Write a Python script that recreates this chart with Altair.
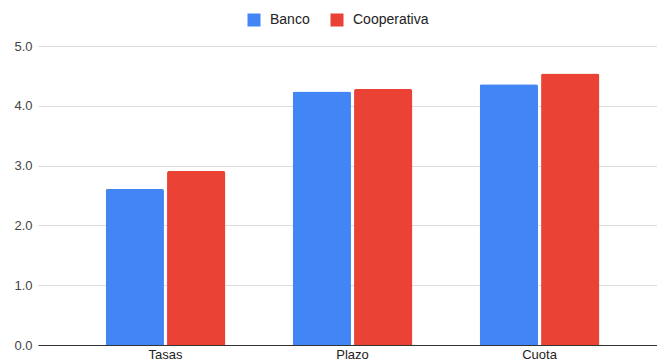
import altair as alt
import pandas as pd

categories = ["Tasas", "Plazo", "Cuota"]
series = ["Banco", "Cooperativa"]
banco = [2.61, 4.24, 4.36]
cooperativa = [2.91, 4.28, 4.54]
y_ticks = [0, 1, 2, 3, 4, 5]

rows = []
for c, b, k in zip(categories, banco, cooperativa):
    rows.append({"cat": c, "serie": "Banco", "val": b})
    rows.append({"cat": c, "serie": "Cooperativa", "val": k})
df = pd.DataFrame(rows)

FONT = "Liberation Sans"

chart = alt.Chart(df).mark_bar(cornerRadiusTopLeft=2, cornerRadiusTopRight=2).encode(
    x=alt.X("cat:N", sort=categories, title=None,
            scale=alt.Scale(paddingInner=0.36, paddingOuter=0.335, align=0.54),
            axis=alt.Axis(labelAngle=0, ticks=False, domain=True, domainColor="#333333",
                          domainWidth=1, labelFontSize=13, labelColor="#222222",
                          labelFont=FONT, labelPadding=3)),
    xOffset=alt.XOffset("serie:N", sort=series, scale=alt.Scale(paddingInner=0.05)),
    y=alt.Y("val:Q", title=None,
            scale=alt.Scale(domain=[0, 5], nice=False),
            axis=alt.Axis(values=y_ticks, format=".1f", ticks=False, domain=False,
                          gridColor="#dddddd", labelFontSize=13, labelColor="#444444",
                          labelFont=FONT, labelPadding=6)),
    color=alt.Color("serie:N", sort=series, title=None,
                    scale=alt.Scale(domain=series, range=["#4285F4", "#EA4335"]),
                    legend=alt.Legend(orient="none", legendX=209, legendY=-33,
                                      direction="horizontal", symbolType="square",
                                      symbolSize=169, symbolStrokeWidth=0,
                                      labelFontSize=14, labelFont=FONT,
                                      labelColor="#222222", labelOffset=9,
                                      columnPadding=20)),
).properties(
    width=619, height=299,
    autosize=alt.AutoSizeParams(type="none"),
    padding={"left": 38, "top": 46, "right": 0, "bottom": 17},
).configure_view(stroke=None).configure_axisX(grid=False)

chart.save("out.html", embed_options={"renderer": "svg", "actions": False})
